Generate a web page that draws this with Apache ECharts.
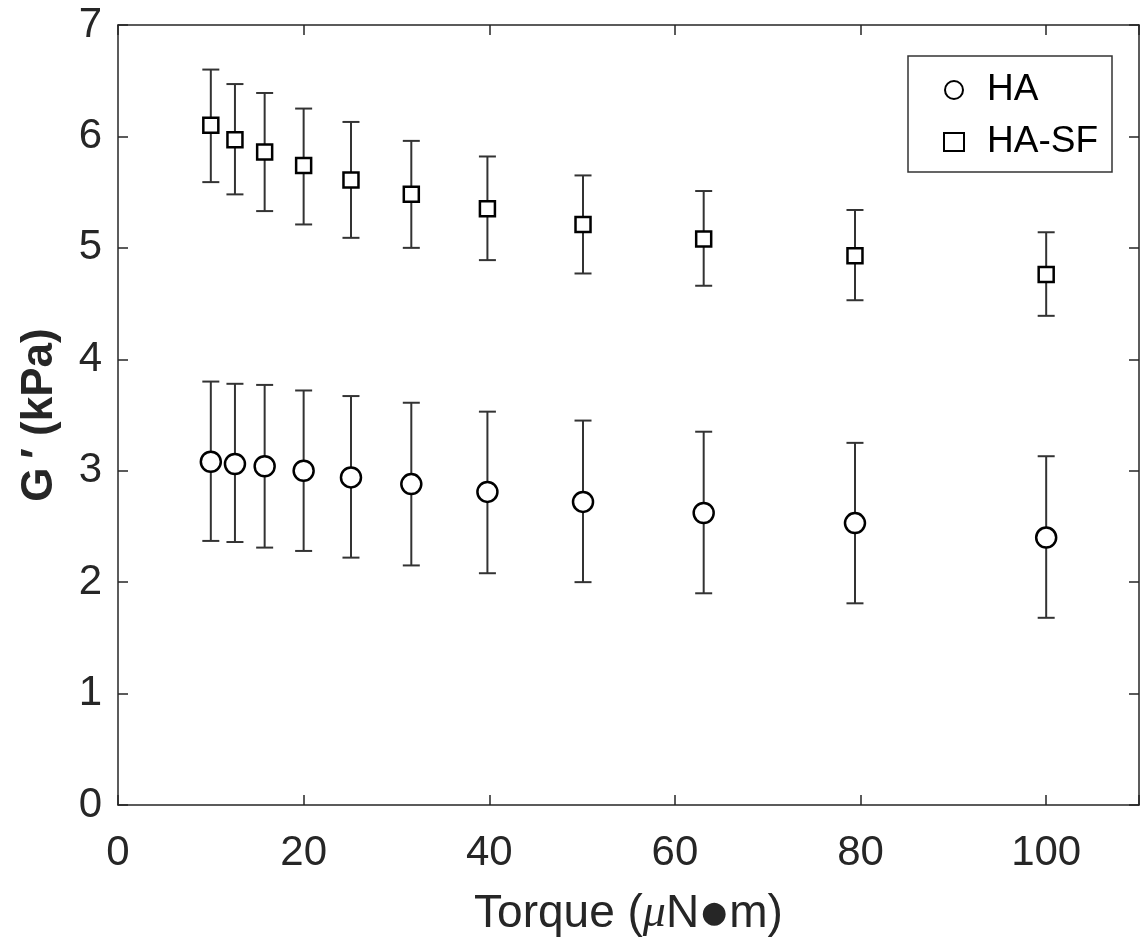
<html>
<head>
<meta charset="UTF-8">
<script src="https://cdn.jsdelivr.net/npm/echarts@6/dist/echarts.min.js"></script>
<style type="text/css">
body{margin:0;background:#fff;}
#chart{width:1142px;height:944px;}
</style>
</head>
<body>
<div id="chart"></div>
<script type="text/javascript">
// torque (uN.m)
var torque=[10,12.6,15.8,20,25.1,31.6,39.8,50.1,63.1,79.4,100];
// HA
var haMean=[3.08,3.06,3.04,3.00,2.94,2.88,2.81,2.72,2.62,2.53,2.40];
var haTop=[3.80,3.78,3.77,3.72,3.67,3.61,3.53,3.45,3.35,3.25,3.13];
var haBot=[2.37,2.36,2.31,2.28,2.22,2.15,2.08,2.00,1.90,1.81,1.68];
// HA-SF
var sfMean=[6.10,5.97,5.86,5.74,5.61,5.48,5.35,5.21,5.08,4.93,4.76];
var sfTop=[6.60,6.47,6.39,6.25,6.13,5.96,5.82,5.65,5.51,5.34,5.14];
var sfBot=[5.59,5.48,5.33,5.21,5.09,5.00,4.89,4.77,4.66,4.53,4.39];

var axisCol='#262626';
var font='Liberation Sans';

function pts(m){
	var r=[];
	for(var i=0;i<torque.length;i++){r.push([torque[i],m[i]]);}
	return r;
}
function bars(lo,hi){
	var r=[];
	for(var i=0;i<torque.length;i++){r.push([torque[i],lo[i],hi[i]]);}
	return r;
}
function errRender(params,api){
	var x=api.value(0);
	var lo=api.coord([x,api.value(1)]);
	var hi=api.coord([x,api.value(2)]);
	var w=8.5;
	var st={stroke:'#333',lineWidth:2};
	return {type:'group',children:[
		{type:'line',shape:{x1:lo[0],y1:lo[1],x2:hi[0],y2:hi[1]},style:st},
		{type:'line',shape:{x1:lo[0]-w,y1:lo[1],x2:lo[0]+w,y2:lo[1]},style:st},
		{type:'line',shape:{x1:hi[0]-w,y1:hi[1],x2:hi[0]+w,y2:hi[1]},style:st}
	]};
}

var myChart=echarts.init(document.getElementById('chart'));
var option={
	animation:false,
	grid:{left:118,right:2,top:25,bottom:139,show:false},
	legend:{
		right:30,top:56,orient:'vertical',
		data:['HA','HA-SF'],
		itemWidth:20,itemHeight:18,itemGap:12,
		padding:[14,14,10,35],
		borderColor:'#333',borderWidth:1.5,
		textStyle:{fontFamily:font,fontSize:37,lineHeight:40,color:'#000',padding:[0,0,0,18]}
	},
	xAxis:[{
		type:'value',min:0,max:110,interval:20,
		axisLine:{onZero:false,lineStyle:{color:axisCol,width:1.5}},
		axisTick:{inside:true,length:10,lineStyle:{color:axisCol,width:1.5}},
		splitLine:{show:false},
		axisLabel:{fontFamily:font,fontSize:42,color:axisCol,margin:27,
			formatter:function(v){return v>100?'':v;}},
		name:'{a|Torque (}{b|μ}{a|N}{c|●}{a|m)}',nameLocation:'middle',nameGap:86,
		nameTextStyle:{rich:{
			a:{fontFamily:font,fontSize:46,color:axisCol},
			b:{fontFamily:'Liberation Serif',fontStyle:'italic',fontSize:46,color:axisCol},
			c:{fontFamily:'DejaVu Sans',fontSize:30,color:axisCol,padding:[0,2,0,2]}
		}}
	},{
		type:'value',position:'top',min:0,max:110,interval:20,
		axisLine:{onZero:false,lineStyle:{color:axisCol,width:1.5}},
		axisTick:{inside:true,length:10,lineStyle:{color:axisCol,width:1.5}},
		axisLabel:{show:false},splitLine:{show:false}
	}],
	yAxis:[{
		type:'value',min:0,max:7,interval:1,
		axisLine:{show:true,onZero:false,lineStyle:{color:axisCol,width:1.5}},
		axisTick:{show:true,inside:true,length:10,lineStyle:{color:axisCol,width:1.5}},
		splitLine:{show:false},
		axisLabel:{fontFamily:font,fontSize:42,color:axisCol,margin:16},
		name:'G\u2009′ (kPa)',nameLocation:'middle',nameGap:56,nameRotate:90,
		nameTextStyle:{fontFamily:font,fontSize:44,fontWeight:'bold',color:axisCol}
	},{
		type:'value',position:'right',min:0,max:7,interval:1,
		axisLine:{show:true,onZero:false,lineStyle:{color:axisCol,width:1.5}},
		axisTick:{show:true,inside:true,length:10,lineStyle:{color:axisCol,width:1.5}},
		axisLabel:{show:false},splitLine:{show:false}
	}],
	series:[
		{type:'custom',renderItem:errRender,data:bars(haBot,haTop),z:2,silent:true},
		{type:'custom',renderItem:errRender,data:bars(sfBot,sfTop),z:2,silent:true},
		{name:'HA',type:'scatter',symbol:'circle',symbolSize:20,data:pts(haMean),z:5,
			itemStyle:{color:'#fff',borderColor:'#000',borderWidth:2.5,opacity:1}},
		{name:'HA-SF',type:'scatter',symbol:'rect',symbolSize:15,data:pts(sfMean),z:5,
			itemStyle:{color:'#fff',borderColor:'#000',borderWidth:2.5,opacity:1}}
	]
};
myChart.setOption(option);
</script>
</body>
</html>
